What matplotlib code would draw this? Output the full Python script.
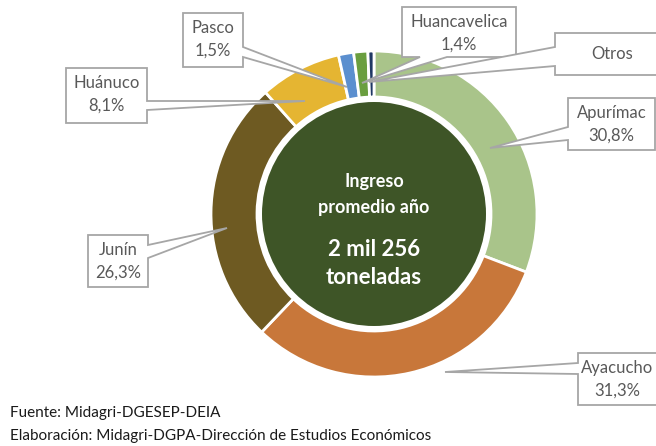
import matplotlib
matplotlib.use("Agg")
from matplotlib import pyplot as plt
from matplotlib.patches import Polygon, Circle

plt.rcParams['font.family'] = ['Lato', 'DejaVu Sans']

regiones = ["Apurímac", "Ayacucho", "Junín", "Huánuco", "Pasco", "Huancavelica", "Otros"]
porcentajes = [30.8, 31.3, 26.3, 8.1, 1.5, 1.4, 0.6]
colores = ["#A9C48A", "#C8773A", "#6E5A22", "#E5B532", "#5B8FCF", "#6A9E3F", "#1F3864"]
centro_txt = ["Ingreso", "promedio año", "2 mil 256", "toneladas"]
fuente = "Fuente: Midagri-DGESEP-DEIA"
elaboracion = "Elaboración: Midagri-DGPA-Dirección de Estudios Económicos"

W, H = 656, 446
fig = plt.figure(figsize=(W / 100, H / 100), dpi=100)
ax = fig.add_axes([0, 0, 1, 1])

def py(y):
    # pixel row (top-down) -> data y
    return H - y

cx, cy = 374, 214
ax.pie(porcentajes, colors=colores, startangle=90, counterclock=False,
       radius=163, center=(cx, py(cy)),
       wedgeprops=dict(width=46, edgecolor="white", linewidth=2))
ax.add_patch(Circle((cx, py(cy)), 112, facecolor="#3E5527", edgecolor="none", zorder=3))

ax.text(cx, py(181), centro_txt[0], color="white", fontsize=13, fontweight="bold",
        ha="center", va="center", zorder=4)
ax.text(cx, py(207), centro_txt[1], color="white", fontsize=13, fontweight="bold",
        ha="center", va="center", zorder=4)
ax.text(cx, py(250), centro_txt[2], color="white", fontsize=16, fontweight="bold",
        ha="center", va="center", zorder=4)
ax.text(cx, py(277), centro_txt[3], color="white", fontsize=16, fontweight="bold",
        ha="center", va="center", zorder=4)


def callout(x0, y0, x1, y1, side, a, b, tip):
    pts = [(x0, y0)]
    if side == "top":
        pts += [(a, y0), tip, (b, y0)]
    pts.append((x1, y0))
    if side == "right":
        pts += [(x1, a), tip, (x1, b)]
    pts.append((x1, y1))
    if side == "bottom":
        pts += [(b, y1), tip, (a, y1)]
    pts.append((x0, y1))
    if side == "left":
        pts += [(x0, b), tip, (x0, a)]
    pts = [(x, py(y)) for x, y in pts]
    ax.add_patch(Polygon(pts, closed=True, facecolor="white", edgecolor="#A6A6A6",
                         linewidth=1.3, zorder=5))


# box (x0, y0, x1, y1), pointer side, pointer a, b, tip
cajas = [
    ((568, 98, 655, 150), "left", 127, 140, (490, 148)),
    ((578, 353, 680, 405), "left", 363, 374, (445, 372)),
    ((88, 235, 148, 287), "right", 245, 258, (227, 228)),
    ((66, 68, 147, 123), "right", 101, 110, (305, 101)),
    ((183, 13, 243, 67), "right", 47, 57, (347, 87)),
    ((402, 7, 516, 57), "bottom", 420, 447, (362, 83)),
    ((555, 33, 680, 75), "left", 47, 66, (369, 82)),
]

for i in range(len(regiones)):
    (x0, y0, x1, y1), side, a, b, tip = cajas[i]
    callout(x0, y0, x1, y1, side, a, b, tip)
    xm = (x0 + min(x1, 656)) / 2
    if regiones[i] == "Ayacucho":
        xm = 617
    if regiones[i] == "Otros":
        ax.text(612, py(54), regiones[i], color="#595959", fontsize=12,
                ha="center", va="center", zorder=6)
    else:
        pct = ("%.1f%%" % porcentajes[i]).replace(".", ",")
        ax.text(xm, py(y0 + 15), regiones[i], color="#595959", fontsize=12,
                ha="center", va="center", zorder=6)
        ax.text(xm, py(y0 + 38), pct, color="#595959", fontsize=12,
                ha="center", va="center", zorder=6)

ax.text(10, py(413), fuente, color="#1A1A1A", fontsize=11, ha="left", va="center")
ax.text(10, py(436), elaboracion, color="#1A1A1A", fontsize=11, ha="left", va="center")

ax.set_xlim(0, W)
ax.set_ylim(0, H)
ax.set_aspect("equal")
ax.axis("off")

fig.savefig("out.png", dpi=100)
